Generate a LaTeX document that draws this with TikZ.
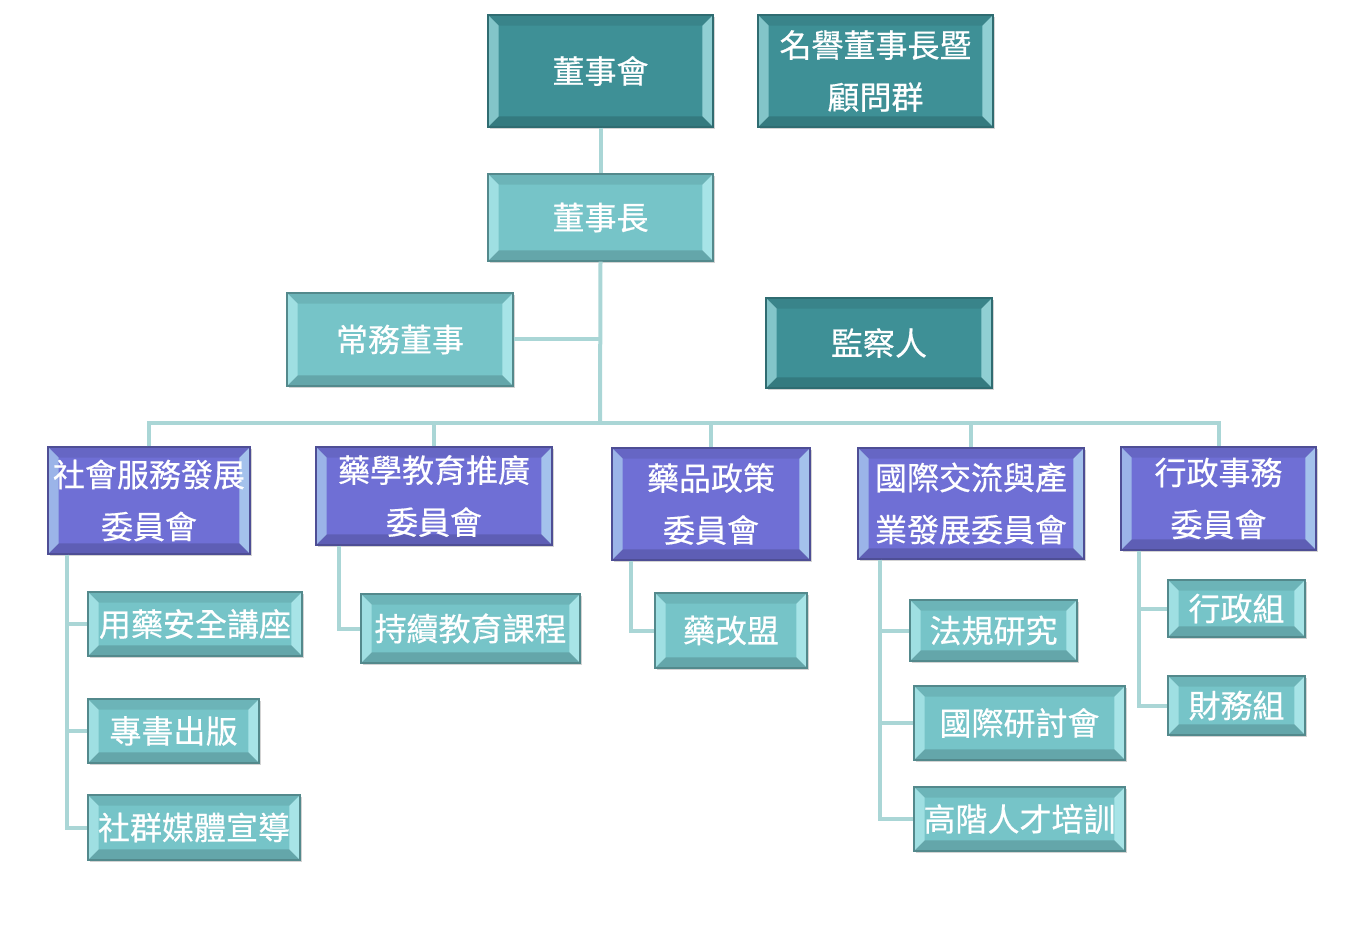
\documentclass[tikz,border=0pt]{standalone}
\usepackage{fontspec}
\newfontfamily\cjk[BoldFont={Noto Sans CJK TC}, BoldFeatures={FakeBold=0.5}]{Noto Sans CJK TC}
\usetikzlibrary{shadows}
\definecolor{orgTealDark}{RGB}{62,144,150}
\definecolor{orgTeal}{RGB}{118,196,200}
\definecolor{orgPurple}{RGB}{111,111,213}
\definecolor{orgLine}{RGB}{170,214,214}
\definecolor{orgGlow}{RGB}{200,250,252}

\begin{document}
\begin{tikzpicture}[
  x=0.75pt, y=-0.75pt,
  every node/.style={font=\cjk\bfseries\fontsize{24}{39}\selectfont, text=white},
  bevel/.style={path picture={
      \fill[orgGlow, opacity=.5] (path picture bounding box.south west) -- (path picture bounding box.north west)
            -- ([shift={(8pt,-8pt)}]path picture bounding box.north west) -- ([shift={(8pt,8pt)}]path picture bounding box.south west) -- cycle;
      \fill[orgGlow, opacity=.6] (path picture bounding box.south east) -- (path picture bounding box.north east)
            -- ([shift={(-8pt,-8pt)}]path picture bounding box.north east) -- ([shift={(-8pt,8pt)}]path picture bounding box.south east) -- cycle;
      \fill[black, opacity=.08] (path picture bounding box.north west) -- (path picture bounding box.north east)
            -- ([shift={(-8pt,-8pt)}]path picture bounding box.north east) -- ([shift={(8pt,-8pt)}]path picture bounding box.north west) -- cycle;
      \fill[black, opacity=.15] (path picture bounding box.south west) -- (path picture bounding box.south east)
            -- ([shift={(-8pt,8pt)}]path picture bounding box.south east) -- ([shift={(8pt,8pt)}]path picture bounding box.south west) -- cycle;
  }},
  box/.style={bevel, inner sep=0pt, align=center, line width=0.8pt,
              drop shadow={opacity=.35, shadow xshift=1.5pt, shadow yshift=-1.5pt}},
  dark/.style={box, fill=orgTealDark, draw=orgTealDark!75!black},
  lite/.style={box, fill=orgTeal, draw=orgTeal!70!black},
  comm/.style={box, fill=orgPurple, draw=orgPurple!70!black},
  link/.style={draw=orgLine, line width=3pt}
]
\useasboundingbox (0,0) rectangle (1350,948);

% ---- direction ----
\node[dark, minimum width=225*0.75pt, minimum height=112*0.75pt] (board) at (600.5,71) {董事會};
\node[dark, minimum width=235*0.75pt, minimum height=112*0.75pt] (honor) at (875.5,71) {名譽董事長暨\\顧問群};
\node[lite, minimum width=225*0.75pt, minimum height=87*0.75pt] (chair) at (600.5,217.5) {董事長};
\node[lite, minimum width=226*0.75pt, minimum height=93*0.75pt] (exec) at (400,339.5) {常務董事};
\node[dark, minimum width=226*0.75pt, minimum height=90*0.75pt] (super) at (879,343) {監察人};

% ---- committees ----
\node[comm, minimum width=202*0.75pt, minimum height=107*0.75pt] (c1) at (149,500.5) {社會服務發展\\委員會};
\node[comm, minimum width=236*0.75pt, minimum height=98*0.75pt] (c2) at (434,496) {藥學教育推廣\\委員會};
\node[comm, minimum width=198*0.75pt, minimum height=112*0.75pt] (c3) at (711,504) {藥品政策\\委員會};
\node[comm, minimum width=226*0.75pt, minimum height=111*0.75pt] (c4) at (971,503.5) {國際交流與產\\業發展委員會};
\node[comm, minimum width=195*0.75pt, minimum height=103*0.75pt] (c5) at (1218.5,498.5) {行政事務\\委員會};

% ---- units ----
\node[lite, minimum width=214*0.75pt, minimum height=64*0.75pt] (s11) at (195,624) {用藥安全講座};
\node[lite, minimum width=171*0.75pt, minimum height=64*0.75pt] (s12) at (173.5,731) {專書出版};
\node[lite, minimum width=212*0.75pt, minimum height=65*0.75pt] (s13) at (194,827.5) {社群媒體宣導};
\node[lite, minimum width=219*0.75pt, minimum height=69*0.75pt] (s21) at (470.5,628.5) {持續教育課程};
\node[lite, minimum width=152*0.75pt, minimum height=75*0.75pt] (s31) at (731,630.5) {藥改盟};
\node[lite, minimum width=167*0.75pt, minimum height=61*0.75pt] (s41) at (993.5,630.5) {法規研究};
\node[lite, minimum width=211*0.75pt, minimum height=74*0.75pt] (s42) at (1019.5,723) {國際研討會};
\node[lite, minimum width=211*0.75pt, minimum height=64*0.75pt] (s43) at (1019.5,819) {高階人才培訓};
\node[lite, minimum width=137*0.75pt, minimum height=57*0.75pt] (s51) at (1236.5,608.5) {行政組};
\node[lite, minimum width=137*0.75pt, minimum height=59*0.75pt] (s52) at (1236.5,705.5) {財務組};

% ---- connectors ----
\coordinate (bus) at (600,423);
\path[link] (board) -- (chair);
\path[link] (chair.south) -- (bus);
\path[link] (exec.east) -- (exec.east -| chair);
\path[link] (c1.north) |- (bus) -| (c5.north);
\path[link] (c2.north) -- (c2.north |- bus);
\path[link] (c3.north) -- (c3.north |- bus);
\path[link] (c4.north) -- (c4.north |- bus);
\path[link] (c1.south west) ++(20,0) |- (s11.west);
\path[link] (c1.south west) ++(20,0) |- (s12.west);
\path[link] (c1.south west) ++(20,0) |- (s13.west);
\path[link] (c2.south west) ++(24,0) |- (s21.west);
\path[link] (c3.south west) ++(20,0) |- (s31.west);
\path[link] (c4.south west) ++(23,0) |- (s41.west);
\path[link] (c4.south west) ++(23,0) |- (s42.west);
\path[link] (c4.south west) ++(23,0) |- (s43.west);
\path[link] (c5.south west) ++(19,0) |- (s51.west);
\path[link] (c5.south west) ++(19,0) |- (s52.west);

\end{tikzpicture}
\end{document}
